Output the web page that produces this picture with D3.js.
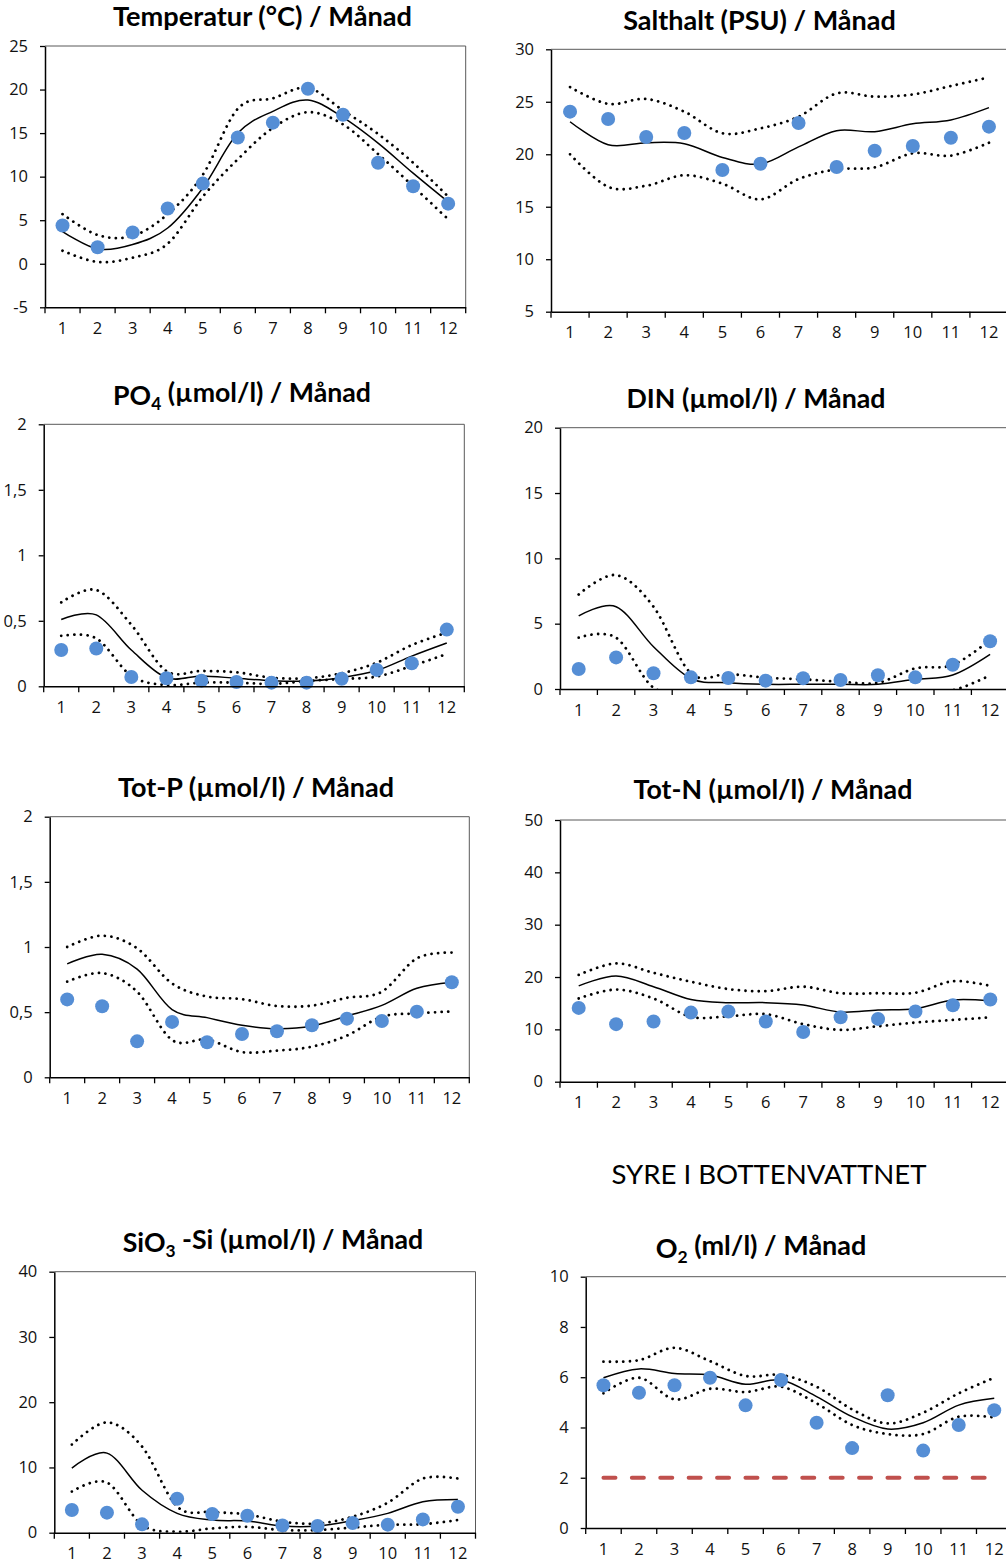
<!DOCTYPE html>
<html><head><meta charset="utf-8">
<script src="https://cdn.jsdelivr.net/npm/d3@7"></script>
<style>body{margin:0;background:#fff} svg{display:block}</style>
</head><body>
<svg id="c" width="1006" height="1566"></svg>
<script>
// ---------- data ----------
const months = ["1","2","3","4","5","6","7","8","9","10","11","12"];

const tempObs   = [4.4, 1.9, 3.6, 6.35, 9.2, 14.5, 16.2, 20.1, 17.1, 11.6, 8.9, 6.9];
const tempMean  = [3.7, 1.7, 2.2, 4.1, 8.7, 15.0, 17.5, 18.8, 16.8, 13.85, 10.4, 7.1];
const tempUpper = [5.7, 3.3, 3.2, 5.7, 10.2, 17.8, 19.0, 20.2, 17.6, 14.9, 11.6, 7.7];
const tempLower = [1.5, 0.2, 0.7, 2.3, 7.7, 12.0, 15.6, 17.4, 16.0, 12.6, 8.9, 5.1];
const tempTicks = [-5, 0, 5, 10, 15, 20, 25];

const saltObs   = [24.06, 23.36, 21.65, 22.03, 18.5, 19.1, 22.98, 18.79, 20.34, 20.79, 21.58, 22.63];
const saltMean  = [23.1, 20.9, 21.1, 21.0, 19.7, 19.07, 20.7, 22.25, 22.15, 22.9, 23.27, 24.44];
const saltUpper = [26.4, 24.8, 25.27, 24.06, 22.0, 22.47, 23.58, 25.8, 25.49, 25.7, 26.5, 27.33];
const saltLower = [19.99, 16.9, 17.0, 18.0, 17.2, 15.7, 17.64, 18.56, 18.75, 20.09, 19.87, 21.1];
const saltTicks = [5, 10, 15, 20, 25, 30];

const po4Obs   = [0.277, 0.288, 0.071, 0.061, 0.043, 0.033, 0.028, 0.028, 0.058, 0.125, 0.176, 0.433];
const po4Mean  = [0.51, 0.545, 0.277, 0.066, 0.079, 0.061, 0.043, 0.04, 0.066, 0.12, 0.23, 0.33];
const po4Upper = [0.64, 0.735, 0.47, 0.117, 0.117, 0.107, 0.066, 0.061, 0.10, 0.18, 0.315, 0.41];
const po4Lower = [0.385, 0.366, 0.08, 0.01, 0.028, 0.028, 0.018, 0.04, 0.056, 0.074, 0.155, 0.247];
const po4Ticks = [0, 0.5, 1, 1.5, 2];

const dinObs   = [1.53, 2.42, 1.2, 0.89, 0.84, 0.64, 0.82, 0.69, 1.05, 0.89, 1.86, 3.65];
const dinMean  = [5.59, 6.3, 3.24, 0.8, 0.48, 0.36, 0.36, 0.36, 0.36, 0.74, 1.07, 2.65];
const dinUpper = [7.24, 8.72, 6.3, 1.2, 1.15, 0.87, 0.74, 0.56, 0.48, 1.58, 1.84, 3.75];
const dinLower = [3.93, 3.93, 0.1, -0.2, -0.3, -0.3, -0.2, -0.2, -0.3, -0.2, -0.1, 1.05];
const dinTicks = [0, 5, 10, 15, 20];

const totpObs   = [0.598, 0.545, 0.276, 0.425, 0.269, 0.332, 0.353, 0.40, 0.45, 0.432, 0.504, 0.729];
const totpMean  = [0.87, 0.944, 0.83, 0.52, 0.458, 0.40, 0.373, 0.394, 0.47, 0.552, 0.683, 0.73];
const totpUpper = [1.0, 1.087, 0.99, 0.72, 0.62, 0.60, 0.547, 0.55, 0.61, 0.657, 0.913, 0.957];
const totpLower = [0.734, 0.80, 0.657, 0.286, 0.29, 0.194, 0.205, 0.235, 0.32, 0.465, 0.49, 0.506];
const totpTicks = [0, 0.5, 1, 1.5, 2];

const totnObs   = [14.1, 11.0, 11.5, 13.2, 13.4, 11.5, 9.5, 12.3, 12.0, 13.4, 14.6, 15.7];
const totnMean  = [18.3, 20.2, 18.15, 15.7, 15.1, 15.1, 14.65, 13.3, 13.7, 13.95, 15.6, 15.4];
const totnUpper = [20.4, 22.6, 20.8, 19.1, 17.7, 17.3, 18.15, 16.9, 16.9, 17.0, 19.2, 18.3];
const totnLower = [15.9, 17.6, 15.9, 12.4, 12.5, 12.9, 11.0, 9.9, 10.6, 11.3, 11.8, 12.3];
const totnTicks = [0, 10, 20, 30, 40, 50];

const sioObs   = [3.47, 3.07, 1.28, 5.2, 2.86, 2.6, 1.12, 1.02, 1.48, 1.23, 2.04, 3.98];
const sioMean  = [9.9, 12.2, 6.5, 2.96, 1.94, 1.79, 1.02, 1.02, 1.84, 2.96, 4.75, 5.1];
const sioUpper = [13.5, 16.9, 13.2, 4.0, 3.2, 2.8, 1.7, 1.4, 2.45, 4.6, 8.3, 8.3];
const sioLower = [6.3, 7.7, 1.2, 0.15, 0.66, 0.9, 0.4, 0.4, 0.8, 1.2, 1.3, 1.94];
const sioTicks = [0, 10, 20, 30, 40];

const o2Obs   = [5.68, 5.38, 5.68, 5.98, 4.88, 5.89, 4.19, 3.18, 5.28, 3.08, 4.1, 4.69];
const o2Mean  = [5.98, 6.33, 6.15, 6.09, 5.72, 5.89, 5.23, 4.43, 3.94, 4.19, 4.89, 5.16];
const o2Upper = [6.62, 6.68, 7.17, 6.64, 6.05, 6.09, 5.62, 4.72, 4.16, 4.59, 5.36, 5.98];
const o2Lower = [5.36, 5.98, 5.12, 5.54, 5.41, 5.62, 4.96, 4.1, 3.74, 3.74, 4.43, 4.40];
const o2Ticks = [0, 2, 4, 6, 8, 10];
const o2Limit = 2;

const sectionTitle = "SYRE I BOTTENVATTNET";

// ---------- drawing ----------
const svg = d3.select("#c");
const fmt = d => String(d).replace(".", ",");
const MARK = "#558ED5";

function fitText(sel, target) {
  const w = sel.node().getComputedTextLength();
  const fs = parseFloat(sel.attr("font-size"));
  sel.attr("font-size", (fs * target / w).toFixed(2));
}

function title(parts, cx, by, target) {
  const t = svg.append("text").attr("x", cx).attr("y", by)
    .attr("text-anchor", "middle").attr("font-family", "Lato, 'Open Sans', sans-serif")
    .attr("font-weight", "bold").attr("font-size", 22).attr("fill", "#000");
  parts.forEach(p => {
    const s = t.append("tspan").text(p.t);
    if (p.sub) s.attr("font-size", "0.65em").attr("dy", "0.3em");
    if (p.after) s.attr("dy", "-0.3em");
  });
  fitText(t, target);
  return t;
}

let clipId = 0;
function panel(c) {
  const g = svg.append("g");
  const x = d3.scaleBand().domain(months).range([c.l, c.r]).padding(0);
  const y = d3.scaleLinear().domain([c.ticks[0], c.ticks[c.ticks.length - 1]]).range([c.b, c.t]);
  const cx = m => x(m) + x.bandwidth() / 2;

  g.append("path").attr("d", `M${c.l},${c.t}H${c.r}V${c.b}`)
    .attr("fill", "none").attr("stroke", "#595959").attr("stroke-width", 1);

  const id = "clip" + (clipId++);
  g.append("clipPath").attr("id", id).append("rect")
    .attr("x", c.l).attr("y", c.t).attr("width", c.r - c.l).attr("height", c.b - c.t);

  const line = d3.line().x((d, i) => cx(months[i])).y(d => y(d)).curve(d3.curveCardinal.tension(0));
  const lg = g.append("g").attr("clip-path", `url(#${id})`);
  [c.upper, c.lower].forEach(arr => {
    lg.append("path").attr("d", line(arr)).attr("fill", "none").attr("stroke", "#000")
      .attr("stroke-width", 2.8).attr("stroke-linecap", "round").attr("stroke-dasharray", "0.01 6.6");
  });
  lg.append("path").attr("d", line(c.mean)).attr("fill", "none").attr("stroke", "#000").attr("stroke-width", 1.5);

  if (c.limit !== undefined) {
    g.append("line").attr("x1", cx(months[0])).attr("x2", cx(months[11]))
      .attr("y1", y(c.limit)).attr("y2", y(c.limit))
      .attr("stroke", "#C0504D").attr("stroke-width", 4).attr("stroke-linecap", "round")
      .attr("stroke-dasharray", "12 16.4");
  }

  g.selectAll("circle.obs").data(c.obs).join("circle").attr("class", "obs")
    .attr("cx", (d, i) => cx(months[i])).attr("cy", d => y(d)).attr("r", 7).attr("fill", MARK);

  const ya = g.append("g").attr("transform", `translate(${c.l},0)`)
    .call(d3.axisLeft(y).tickValues(c.ticks).tickFormat(fmt).tickSize(5).tickSizeOuter(0).tickPadding(12));
  const xa = g.append("g").attr("transform", `translate(0,${c.b})`)
    .call(d3.axisBottom(x).tickSize(0).tickSizeOuter(0).tickPadding(15));
  const bounds = months.map(m => x(m)).concat([x(months[11]) + x.bandwidth()]);
  g.selectAll("line.xt").data(bounds).join("line").attr("class", "xt")
    .attr("x1", d => d).attr("x2", d => d).attr("y1", c.b).attr("y2", c.b + 6)
    .attr("stroke", "#000").attr("stroke-width", 1.3);

  [ya, xa].forEach(a => {
    a.attr("font-family", "'Open Sans', sans-serif").attr("font-size", 16.5);
    a.select(".domain").attr("stroke", "#000").attr("stroke-width", 1.5);
    a.selectAll(".tick line").attr("stroke", "#000").attr("stroke-width", 1.3);
    a.selectAll("text").style("font-family", "'Open Sans', sans-serif").style("font-size", "16.5px").attr("fill", "#111");
  });
}

const panels = [
  {l: 45, t: 46, r: 465.7, b: 307.3, obs: tempObs, mean: tempMean, upper: tempUpper, lower: tempLower, ticks: tempTicks},
  {l: 551, t: 49.3, r: 1008, b: 311.7, obs: saltObs, mean: saltMean, upper: saltUpper, lower: saltLower, ticks: saltTicks},
  {l: 43.7, t: 424.3, r: 464.3, b: 686.3, obs: po4Obs, mean: po4Mean, upper: po4Upper, lower: po4Lower, ticks: po4Ticks},
  {l: 560, t: 427.7, r: 1008.8, b: 689, obs: dinObs, mean: dinMean, upper: dinUpper, lower: dinLower, ticks: dinTicks},
  {l: 49.7, t: 816.7, r: 469.3, b: 1077.3, obs: totpObs, mean: totpMean, upper: totpUpper, lower: totpLower, ticks: totpTicks},
  {l: 560, t: 820, r: 1009, b: 1081.7, obs: totnObs, mean: totnMean, upper: totnUpper, lower: totnLower, ticks: totnTicks},
  {l: 54.3, t: 1271.7, r: 475.5, b: 1532.7, obs: sioObs, mean: sioMean, upper: sioUpper, lower: sioLower, ticks: sioTicks},
  {l: 585.7, t: 1276.7, r: 1012, b: 1528, obs: o2Obs, mean: o2Mean, upper: o2Upper, lower: o2Lower, ticks: o2Ticks, limit: o2Limit}
];
panels.forEach(panel);

title([{t: "Temperatur (°C) / Månad"}], 262.5, 26, 299);
title([{t: "Salthalt (PSU) / Månad"}], 759.5, 30, 272.7);
title([{t: "PO"}, {t: "4", sub: true}, {t: " (µmol/l) / Månad", after: true}], 242, 405, 258);
title([{t: "DIN (µmol/l) / Månad"}], 756, 408, 259);
title([{t: "Tot-P (µmol/l) / Månad"}], 256, 796.7, 276);
title([{t: "Tot-N (µmol/l) / Månad"}], 773, 799, 279);
title([{t: "SiO"}, {t: "3", sub: true}, {t: " -Si (µmol/l) / Månad", after: true}], 273, 1251.7, 300.6);
title([{t: "O"}, {t: "2", sub: true}, {t: " (ml/l) / Månad", after: true}], 761, 1258, 210.7);

const st = svg.append("text").attr("x", 769).attr("y", 1184).attr("text-anchor", "middle")
  .attr("font-family", "Lato, 'Open Sans', sans-serif").attr("font-size", 24).attr("fill", "#000")
  .text(sectionTitle);
fitText(st, 315);
</script>
</body></html>
